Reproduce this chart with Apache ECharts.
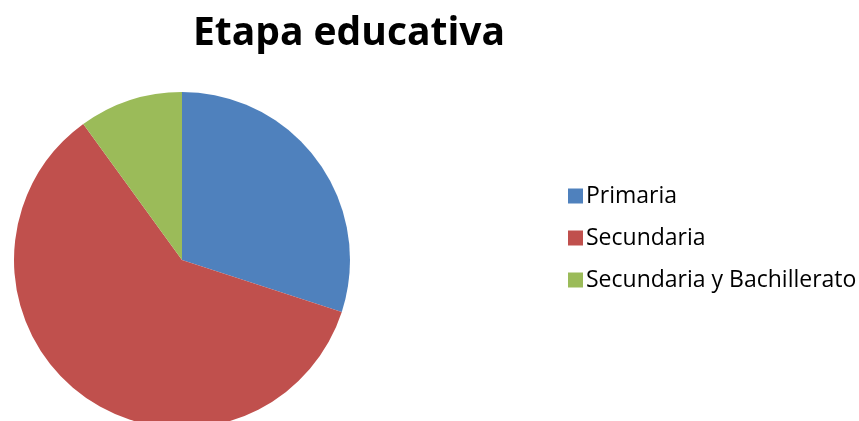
<!DOCTYPE html>
<html>
<head>
<meta charset="utf-8">
<script src="https://cdn.jsdelivr.net/npm/echarts@6/dist/echarts.min.js"></script>
<style>html,body{margin:0;padding:0;background:#fff;}#c{width:859px;height:421px;}</style>
</head>
<body>
<div id="c"></div>
<script>
var categories = ['Primaria', 'Secundaria', 'Secundaria y Bachillerato'];
var values = [30, 60, 10];
var colors = ['#4F81BD', '#C0504D', '#9BBB59'];

var chart = echarts.init(document.getElementById('c'), null, {renderer: 'canvas'});
chart.setOption({
  animation: false,
  backgroundColor: '#ffffff',
  title: {
    text: 'Etapa educativa',
    left: 344,
    textAlign: 'center',
    top: 9,
    textStyle: {fontFamily: 'Open Sans', fontWeight: 'bold', fontSize: 39, color: '#000'}
  },
  legend: {
    orient: 'vertical',
    left: 563,
    top: 179,
    icon: 'rect',
    itemWidth: 15,
    itemHeight: 15,
    itemGap: 18,
    textStyle: {fontFamily: 'Open Sans', fontSize: 23, color: '#000', lineHeight: 24, padding: [0, 0, 0, -2]},
    data: categories
  },
  series: [{
    type: 'pie',
    center: [182, 260],
    radius: 168,
    startAngle: 90,
    clockwise: true,
    label: {show: false},
    labelLine: {show: false},
    emphasis: {disabled: true},
    itemStyle: {borderWidth: 0},
    data: categories.map(function (n, i) {
      return {name: n, value: values[i], itemStyle: {color: colors[i]}};
    })
  }]
});
</script>
</body>
</html>
